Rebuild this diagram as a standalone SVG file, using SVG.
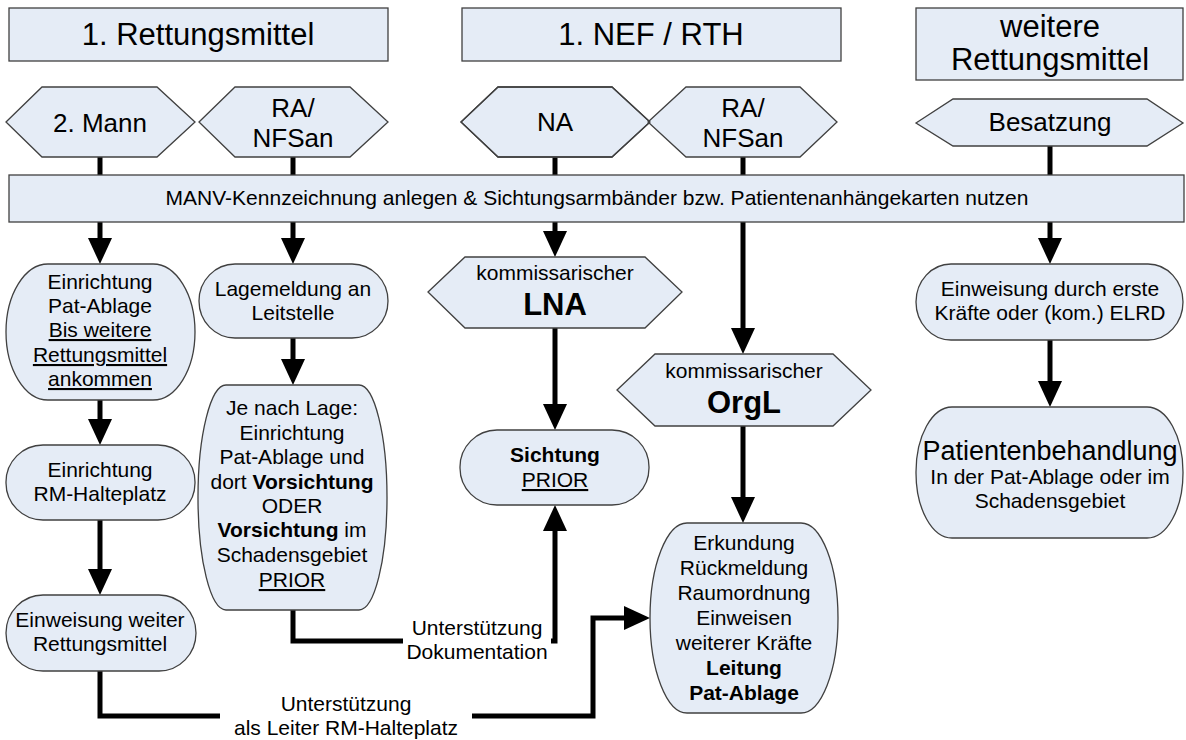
<svg xmlns="http://www.w3.org/2000/svg" width="1186" height="740" viewBox="0 0 1186 740">
<style>
.bx{fill:#E5ECF6;stroke:#404040;stroke-width:1.3}
.t{font-family:"Liberation Sans",Arial,sans-serif;fill:#000;text-anchor:middle}
.h{font-size:31px}
.hx{font-size:26px}
.n{font-size:21px}
.p{font-size:27px}
.big{font-size:31px;font-weight:bold}
.b{font-weight:bold}
.u{text-decoration:underline}
.c{fill:none;stroke:#000;stroke-width:5;stroke-linejoin:miter;stroke-linecap:butt}
.a{marker-end:url(#ah)}
.lbl{fill:#fff;stroke:none}
</style>
<defs>
<marker id="ah" markerUnits="userSpaceOnUse" markerWidth="26" markerHeight="24" viewBox="0 0 26 24" refX="1" refY="12" orient="auto">
<path d="M0,0 L26,12 L0,24 z" fill="#000"/>
</marker>
</defs>
<rect width="1186" height="740" fill="#fff"/>

<g id="connectors">
<path class="c" d="M100,157 V175"/>
<path class="c" d="M293,157 V175"/>
<path class="c" d="M555,157 V175"/>
<path class="c" d="M743,157 V175"/>
<path class="c" d="M1050,146 V175"/>
<path class="c a" d="M100,222 V239"/>
<path class="c a" d="M293,222 V239"/>
<path class="c a" d="M555,222 V232"/>
<path class="c a" d="M743,222 V329"/>
<path class="c a" d="M1050,222 V239"/>
<path class="c a" d="M555,328 V405"/>
<path class="c a" d="M743,426 V498"/>
<path class="c a" d="M100,400 V420"/>
<path class="c a" d="M100,520 V570"/>
<path class="c a" d="M293,338 V360"/>
<path class="c a" d="M1050,340 V382"/>
<path class="c a" d="M293,610 V641 H555 V530"/>
<path class="c a" d="M100,671 V716 H593 V618 H625"/>
<rect class="lbl" x="403" y="614" width="148" height="52"/>
<text class="t n" x="477" y="635">Unterstützung</text>
<text class="t n" x="477" y="659">Dokumentation</text>
<rect class="lbl" x="220" y="690" width="252" height="50"/>
<text class="t n" x="346" y="711">Unterstützung</text>
<text class="t n" x="346" y="735">als Leiter RM-Halteplatz</text>
</g>

<g id="hdr1"><rect class="bx" x="9" y="8" width="379" height="53"/><text class="t h" x="198" y="45">1. Rettungsmittel</text></g>
<g id="hdr2"><rect class="bx" x="462" y="8" width="379" height="53"/><text class="t h" x="651" y="45">1. NEF / RTH</text></g>
<g id="hdr3"><rect class="bx" x="916" y="8" width="267" height="72"/><text class="t h" x="1050" y="37">weitere</text><text class="t h" x="1050" y="70">Rettungsmittel</text></g>

<g id="hex1"><polygon class="bx" points="6,122 42,87 157,87 195,122 157,157 42,157"/><text class="t hx" x="100" y="132">2. Mann</text></g>
<g id="hex2"><polygon class="bx" points="199,122 235,87 350,87 388,122 350,157 235,157"/><text class="t hx" x="293" y="117">RA/</text><text class="t hx" x="293" y="147">NFSan</text></g>
<g id="hex3"><polygon class="bx" points="461,122 498,87 612,87 650,122 612,157 498,157"/><text class="t hx" x="555" y="131">NA</text></g>
<g id="hex4"><polygon class="bx" points="648,122 686,87 800,87 837,122 800,157 686,157"/><polygon points="461,122 498,87 612,87 650,122 612,157 498,157" fill="none" stroke="#404040" stroke-width="1.3"/><text class="t hx" x="743" y="117">RA/</text><text class="t hx" x="743" y="147">NFSan</text></g>
<g id="hex5"><polygon class="bx" points="916,123 953,99 1147,99 1183,123 1147,146 953,146"/><text class="t hx" x="1050" y="131">Besatzung</text></g>

<g id="band"><rect class="bx" x="9" y="175" width="1175" height="47"/><text class="t n" x="597" y="205">MANV-Kennzeichnung anlegen &amp; Sichtungsarmbänder bzw. Patientenanhängekarten nutzen</text></g>

<g id="nodeA"><rect class="bx" x="6" y="264" width="189" height="136" rx="42" ry="68"/>
<text class="t n" x="100" y="289">Einrichtung</text>
<text class="t n" x="100" y="313">Pat-Ablage</text>
<text class="t n u" x="100" y="337">Bis weitere</text>
<text class="t n u" x="100" y="362">Rettungsmittel</text>
<text class="t n u" x="100" y="386">ankommen</text></g>

<g id="nodeB"><rect class="bx" x="199" y="264" width="189" height="74" rx="36" ry="37"/>
<text class="t n" x="293" y="296">Lagemeldung an</text>
<text class="t n" x="293" y="320">Leitstelle</text></g>

<g id="nodeC"><rect class="bx" x="198" y="385" width="189" height="225" rx="28" ry="112"/>
<text class="t n" x="292" y="415">Je nach Lage:</text>
<text class="t n" x="292" y="440">Einrichtung</text>
<text class="t n" x="292" y="464">Pat-Ablage und</text>
<text class="t n" x="292" y="489">dort <tspan class="b">Vorsichtung</tspan></text>
<text class="t n" x="292" y="513">ODER</text>
<text class="t n" x="292" y="537"><tspan class="b">Vorsichtung</tspan> im</text>
<text class="t n" x="292" y="562">Schadensgebiet</text>
<text class="t n u" x="292" y="587">PRIOR</text></g>

<g id="nodeD"><rect class="bx" x="6" y="445" width="189" height="75" rx="37" ry="37"/>
<text class="t n" x="100" y="477">Einrichtung</text>
<text class="t n" x="100" y="501">RM-Halteplatz</text></g>

<g id="nodeE"><rect class="bx" x="6" y="595" width="190" height="76" rx="37" ry="38"/>
<text class="t n" x="100" y="627">Einweisung weiter</text>
<text class="t n" x="100" y="651">Rettungsmittel</text></g>

<g id="lna"><polygon class="bx" points="428,292 465,257 645,257 682,292 645,328 465,328"/>
<text class="t n" x="555" y="280">kommissarischer</text>
<text class="t big" x="555" y="315">LNA</text></g>

<g id="orgl"><polygon class="bx" points="617,390 655,354 833,354 871,390 833,426 655,426"/>
<text class="t n" x="744" y="378">kommissarischer</text>
<text class="t big" x="744" y="413">OrgL</text></g>

<g id="sichtung"><rect class="bx" x="460" y="430" width="189" height="75" rx="37" ry="37"/>
<text class="t n b" x="555" y="462">Sichtung</text>
<text class="t n u" x="555" y="487">PRIOR</text></g>

<g id="erkundung"><rect class="bx" x="650" y="523" width="188" height="190" rx="37" ry="95"/>
<text class="t n" x="744" y="550">Erkundung</text>
<text class="t n" x="744" y="575">Rückmeldung</text>
<text class="t n" x="744" y="600">Raumordnung</text>
<text class="t n" x="744" y="625">Einweisen</text>
<text class="t n" x="744" y="650">weiterer Kräfte</text>
<text class="t n b" x="744" y="675">Leitung</text>
<text class="t n b" x="744" y="700">Pat-Ablage</text></g>

<g id="einweisung"><rect class="bx" x="916" y="264" width="267" height="76" rx="35" ry="38"/>
<text class="t n" x="1050" y="296">Einweisung durch erste</text>
<text class="t n" x="1050" y="320">Kräfte oder (kom.) ELRD</text></g>

<g id="behandlung"><rect class="bx" x="916" y="407" width="267" height="131" rx="36" ry="65"/>
<text class="t p" x="1050" y="460">Patientenbehandlung</text>
<text class="t n" x="1050" y="484">In der Pat-Ablage oder im</text>
<text class="t n" x="1050" y="508">Schadensgebiet</text></g>
</svg>
